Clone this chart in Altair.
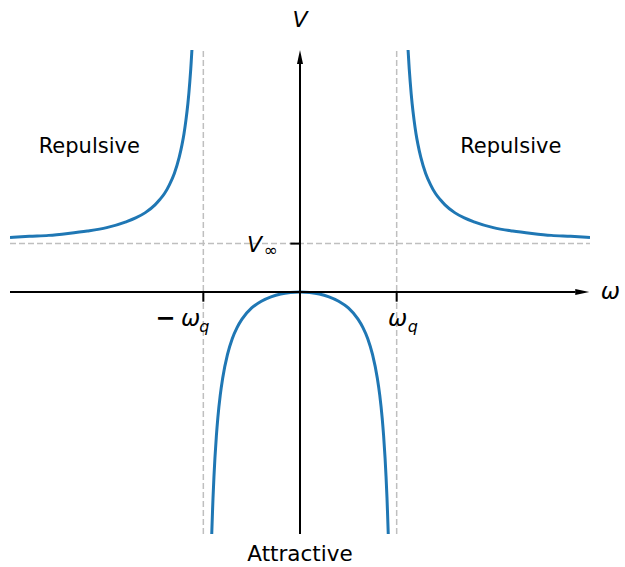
import altair as alt
import pandas as pd

# Potential V(omega) in units of omega_q (x) and V_inf (y)
omega_right = [1.118, 1.125, 1.13, 1.14, 1.15, 1.16, 1.18, 1.2, 1.22, 1.25, 1.3, 1.35,
               1.4, 1.45, 1.5, 1.6, 1.7, 1.8, 2.0, 2.2, 2.4, 2.6, 2.8, 3.0]
v_right = [5.0, 4.77, 4.61, 4.34, 4.10, 3.89, 3.55, 3.27, 3.05, 2.78, 2.45, 2.22,
           2.04, 1.91, 1.80, 1.64, 1.53, 1.45, 1.33, 1.26, 1.21, 1.17, 1.15, 1.125]

omega_left = [-3.0, -2.8, -2.6, -2.4, -2.2, -2.0, -1.8, -1.7, -1.6, -1.5, -1.45, -1.4,
              -1.35, -1.3, -1.25, -1.22, -1.2, -1.18, -1.16, -1.15, -1.14, -1.13, -1.125, -1.118]
v_left = [1.125, 1.15, 1.17, 1.21, 1.26, 1.33, 1.45, 1.53, 1.64, 1.80, 1.91, 2.04,
          2.22, 2.45, 2.78, 3.05, 3.27, 3.55, 3.89, 4.10, 4.34, 4.61, 4.77, 5.0]

omega_mid = [-0.913, -0.905, -0.9, -0.89, -0.88, -0.865, -0.85, -0.825, -0.8, -0.75, -0.7,
             -0.65, -0.6, -0.5, -0.4, -0.3, -0.2, -0.1, 0.0, 0.1, 0.2, 0.3, 0.4, 0.5, 0.6,
             0.65, 0.7, 0.75, 0.8, 0.825, 0.85, 0.865, 0.88, 0.89, 0.9, 0.905, 0.913]
v_mid = [-5.0, -4.53, -4.26, -3.81, -3.43, -2.97, -2.60, -2.13, -1.78, -1.29, -0.96,
         -0.73, -0.56, -0.33, -0.19, -0.10, -0.04, -0.01, 0.0, -0.01, -0.04, -0.10, -0.19,
         -0.33, -0.56, -0.73, -0.96, -1.29, -1.78, -2.13, -2.60, -2.97, -3.43, -3.81,
         -4.26, -4.53, -5.0]

omega_q = 1.0
v_inf = 1.0
x_range = [-3.0, 3.0]
y_range = [-5.0, 5.0]

curve = pd.DataFrame({
    "omega": omega_left + omega_mid + omega_right,
    "V": v_left + v_mid + v_right,
    "branch": ["left"] * len(omega_left) + ["mid"] * len(omega_mid) + ["right"] * len(omega_right),
})

W, H = 580, 484
xs = alt.Scale(domain=x_range, nice=False, zero=False)
ys = alt.Scale(domain=y_range, nice=False, zero=False)


def seg(rows):
    return pd.DataFrame(rows, columns=["x", "y", "x2", "y2"])


def rules(df, **kw):
    return alt.Chart(df).mark_rule(**kw).encode(
        x=alt.X("x:Q", scale=xs, axis=None),
        y=alt.Y("y:Q", scale=ys, axis=None),
        x2="x2:Q",
        y2="y2:Q",
    )


# Dashed guides at +/- omega_q and V_inf
guides = rules(seg([
    [-omega_q, y_range[0], -omega_q, y_range[1]],
    [omega_q, y_range[0], omega_q, y_range[1]],
    [x_range[0], v_inf, x_range[1], v_inf],
]), color="#bfbfbf", strokeWidth=1.5, strokeDash=[6, 3])

# Axes and ticks
axes = rules(seg([
    [x_range[0], 0, 2.85, 0],
    [0, y_range[0], 0, 4.75],
    [-omega_q, 0, -omega_q, -0.2],
    [omega_q, 0, omega_q, -0.2],
    [-0.1, v_inf, 0, v_inf],
]), color="black", strokeWidth=2)

lines = alt.Chart(curve).mark_line(color="#1f77b4", strokeWidth=3, interpolate="monotone", clip=True).encode(
    x=alt.X("omega:Q", scale=xs, axis=None),
    y=alt.Y("V:Q", scale=ys, axis=None),
    detail="branch:N",
    order="omega:Q",
)

arrow_right = alt.Chart(pd.DataFrame({"x": [2.92], "y": [0.0]})).mark_point(
    shape="M-1,-0.43L1,0L-1,0.43Z", filled=True, color="black", size=196, opacity=1
).encode(x=alt.X("x:Q", scale=xs, axis=None), y=alt.Y("y:Q", scale=ys, axis=None))

arrow_up = alt.Chart(pd.DataFrame({"x": [0.0], "y": [4.855]})).mark_point(
    shape="M-0.43,1L0,-1L0.43,1Z", filled=True, color="black", size=196, opacity=1
).encode(x=alt.X("x:Q", scale=xs, axis=None), y=alt.Y("y:Q", scale=ys, axis=None))


def label(x, y, text, size, align="center", baseline="middle", style="normal", dx=0, dy=0, weight="normal"):
    return alt.Chart(pd.DataFrame({"x": [x], "y": [y], "t": [text]})).mark_text(
        font="DejaVu Sans", fontSize=size, align=align, baseline=baseline,
        fontStyle=style, fontWeight=weight, dx=dx, dy=dy, color="black"
    ).encode(x=alt.X("x:Q", scale=xs, axis=None), y=alt.Y("y:Q", scale=ys, axis=None), text="t:N")


texts = [
    label(0, 5.62, "V", 22, style="italic"),
    label(3.21, 0, "ω", 23, style="italic"),
    label(-omega_q, 0, "−", 24, align="right", dx=-28, dy=27, weight="bold"),
    label(-omega_q, 0, "ω", 23, align="right", dx=-3, dy=27, style="italic"),
    label(-omega_q, 0, "q", 16, align="left", dx=-4, dy=35, style="italic"),
    label(omega_q, 0, "ω", 23, align="center", dx=1, dy=27, style="italic"),
    label(omega_q, 0, "q", 16, align="left", dx=11, dy=35, style="italic"),
    label(0, v_inf, "V", 22, align="right", dx=-38, dy=1, style="italic"),
    label(0, v_inf, "∞", 17, align="right", dx=-22, dy=7),
    label(-2.18, 3.0, "Repulsive", 21),
    label(2.18, 3.0, "Repulsive", 21),
    label(0, -5.43, "Attractive", 21.5),
]

chart = alt.layer(guides, lines, axes, arrow_right, arrow_up, *texts).properties(
    width=W, height=H,
    autosize=alt.AutoSizeParams(type="none"),
    padding={"left": 10, "top": 50, "right": 35, "bottom": 33},
    background="white",
).configure_view(stroke=None)

chart.save("out.html", embed_options={"renderer": "svg", "actions": False})
